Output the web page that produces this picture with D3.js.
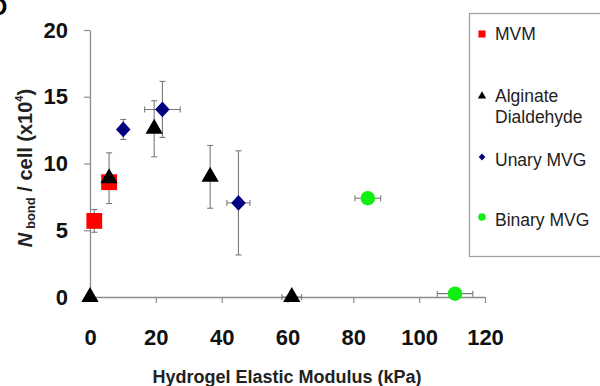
<!DOCTYPE html>
<html>
<head>
<meta charset="utf-8">
<script src="https://cdn.jsdelivr.net/npm/d3@7"></script>
<style>
  body { margin: 0; background: #fff; }
  svg { display: block; font-family: Arial, "Liberation Sans", sans-serif; }
</style>
</head>
<body>
<div id="chart"></div>
<script>
// data
var xTicks = [0, 20, 40, 60, 80, 100, 120];
var yTicks = [0, 5, 10, 15, 20];

var mvmX = [1.3, 5.8];
var mvmY = [5.7, 8.6];
var mvmXErr = [0, 0];
var mvmYErr = [0.85, 0.5];

var algX = [0, 5.8, 19.5, 36.5, 61.3];
var algY = [0, 8.9, 12.6, 9.0, 0];
var algXErr = [0, 0, 0, 0, 3];
var algYErr = [0, 1.9, 2.1, 2.35, 0];

var unaryX = [10.1, 22, 45.1];
var unaryY = [12.55, 14.05, 7.05];
var unaryXErr = [0, 5.4, 3.5];
var unaryYErr = [0.75, 2.1, 3.9];

var binaryX = [84.4, 110.9];
var binaryY = [7.4, 0.25];
var binaryXErr = [3.9, 5.4];
var binaryYErr = [0, 0];

var legendNames = ["MVM", "Alginate\nDialdehyde", "Unary MVG", "Binary MVG"];

var svgWidth = 600, svgHeight = 386;

var svg = d3.select("#chart").append("svg")
  .attr("width", svgWidth)
  .attr("height", svgHeight);

var x = d3.scaleLinear().domain([0, 120]).range([90, 485]);
var y = d3.scaleLinear().domain([0, 20]).range([297, 30]);

// squarish diamond like the excel marker
var wideDiamond = {
  draw: function(context, size) {
    var r = Math.sqrt(size / 2);
    context.moveTo(0, -r);
    context.lineTo(r * 0.92, 0);
    context.lineTo(0, r);
    context.lineTo(-r * 0.92, 0);
    context.closePath();
  }
};

var series = [
  { xs: mvmX, ys: mvmY, xe: mvmXErr, ye: mvmYErr, type: d3.symbolSquare, size: 250, color: "#ff0000", legSize: 50 },
  { xs: algX, ys: algY, xe: algXErr, ye: algYErr, type: d3.symbolTriangle, size: 130, color: "#000000", legSize: 30 },
  { xs: unaryX, ys: unaryY, xe: unaryXErr, ye: unaryYErr, type: wideDiamond, size: 125, color: "#000080", legSize: 26 },
  { xs: binaryX, ys: binaryY, xe: binaryXErr, ye: binaryYErr, type: d3.symbolCircle, size: 165, color: "#11ee11", legSize: 45 }
];

// panel letter, cut off at the corner like in the source figure
svg.append("text")
  .attr("x", -10).attr("y", 15)
  .style("font-size", "24px").style("font-weight", "bold")
  .text("D");

// axes
var xAxis = d3.axisBottom(x).tickValues(xTicks).tickSize(6).tickSizeOuter(0).tickPadding(26);
var yAxis = d3.axisLeft(y).tickValues(yTicks).tickSize(6).tickSizeOuter(0).tickPadding(16);

var gx = svg.append("g").attr("transform", "translate(0," + y(0) + ")").call(xAxis);
var gy = svg.append("g").attr("transform", "translate(" + x(0) + ",0)").call(yAxis);

[gx, gy].forEach(function(g) {
  g.select(".domain").attr("stroke", "#8c8c8c").attr("stroke-width", 1.3);
  g.selectAll(".tick line").attr("stroke", "#8c8c8c").attr("stroke-width", 1.2);
  g.selectAll(".tick text")
    .attr("fill", "#111")
    .style("font-size", "22px")
    .style("font-weight", "bold")
    .style("font-family", "Arial, 'Liberation Sans', sans-serif");
});
gx.selectAll(".tick").filter(function(d) { return d === 0; }).select("line").remove();

// axis titles
svg.append("text")
  .attr("x", 287).attr("y", 383)
  .attr("text-anchor", "middle")
  .attr("fill", "#222")
  .style("font-size", "18px").style("font-weight", "bold")
  .text("Hydrogel Elastic Modulus (kPa)");

var yTitle = svg.append("text")
  .attr("transform", "translate(32,168) rotate(-90)")
  .attr("text-anchor", "middle")
  .attr("fill", "#222")
  .style("font-size", "20px").style("font-weight", "bold");
yTitle.append("tspan").style("font-style", "italic").text("N");
yTitle.append("tspan").style("font-size", "13px").attr("dy", 3).text(" bond");
yTitle.append("tspan").attr("dy", -3).text(" / cell (x10");
yTitle.append("tspan").style("font-size", "11px").attr("dy", -9).text("4");
yTitle.append("tspan").attr("dy", 9).text(")");

// error bars then markers
var errG = svg.append("g").attr("stroke", "#7a7a7a").attr("stroke-width", 1.1).attr("fill", "none");
var markG = svg.append("g");
var cap = 3;

series.forEach(function(s) {
  var pts = s.xs.map(function(v, i) { return { x: v, y: s.ys[i], xe: s.xe[i], ye: s.ye[i] }; });

  pts.filter(function(p) { return p.ye > 0; }).forEach(function(p) {
    var cx = x(p.x), y1 = y(p.y + p.ye), y2 = y(p.y - p.ye);
    errG.append("line").attr("x1", cx).attr("x2", cx).attr("y1", y1).attr("y2", y2);
    errG.append("line").attr("x1", cx - cap).attr("x2", cx + cap).attr("y1", y1).attr("y2", y1);
    errG.append("line").attr("x1", cx - cap).attr("x2", cx + cap).attr("y1", y2).attr("y2", y2);
  });
  pts.filter(function(p) { return p.xe > 0; }).forEach(function(p) {
    var cy = y(p.y), x1 = x(p.x - p.xe), x2 = x(p.x + p.xe);
    errG.append("line").attr("x1", x1).attr("x2", x2).attr("y1", cy).attr("y2", cy);
    errG.append("line").attr("x1", x1).attr("x2", x1).attr("y1", cy - cap).attr("y2", cy + cap);
    errG.append("line").attr("x1", x2).attr("x2", x2).attr("y1", cy - cap).attr("y2", cy + cap);
  });

  markG.selectAll(null)
    .data(pts)
    .enter()
    .append("path")
    .attr("d", d3.symbol().type(s.type).size(s.size))
    .attr("transform", function(p) { return "translate(" + x(p.x) + "," + y(p.y) + ")"; })
    .attr("fill", s.color);
});

// legend
var legend = svg.append("g");
legend.append("rect")
  .attr("x", 469.5).attr("y", 13.5)
  .attr("width", 140).attr("height", 243)
  .attr("fill", "#fff")
  .attr("stroke", "#a0a0a0").attr("stroke-width", 1.3);

var legendY = [34, 96, 157, 217];
var legendText = [40, 102, 166, 226];

legendNames.forEach(function(name, i) {
  var s = series[i];
  legend.append("path")
    .attr("d", d3.symbol().type(s.type).size(s.legSize))
    .attr("transform", "translate(482," + legendY[i] + ")")
    .attr("fill", s.color);
  var t = legend.append("text")
    .attr("x", 495).attr("y", legendText[i])
    .attr("fill", "#222")
    .style("font-size", "17.5px");
  name.split("\n").forEach(function(line, j) {
    t.append("tspan").attr("x", 495).attr("dy", j === 0 ? 0 : 21).text(line);
  });
});
</script>
</body>
</html>
